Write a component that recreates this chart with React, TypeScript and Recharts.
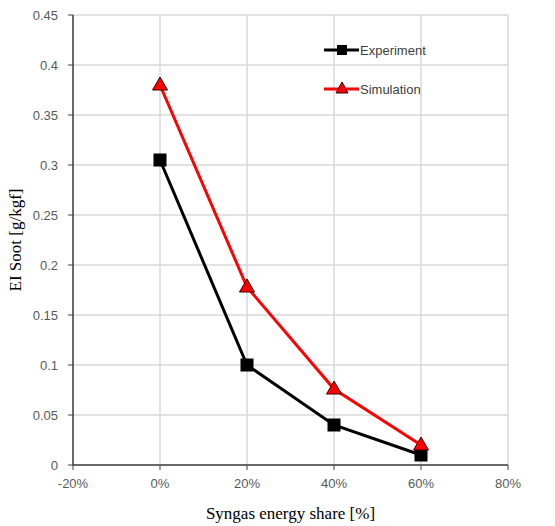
import { CartesianGrid, Line, LineChart, XAxis, YAxis } from "recharts";

const shares = [0, 0.2, 0.4, 0.6];
const experiment = [0.305, 0.1, 0.04, 0.01];
const simulation = [0.38, 0.178, 0.076, 0.02];
const xTicks = [-0.2, 0, 0.2, 0.4, 0.6, 0.8];
const yTicks = [0, 0.05, 0.1, 0.15, 0.2, 0.25, 0.3, 0.35, 0.4, 0.45];

const data = shares.map((share, i) => ({
  share,
  experiment: experiment[i],
  simulation: simulation[i],
}));

const tickFont = { fill: "#595959", fontSize: 13, fontFamily: "'Liberation Sans', Arial, sans-serif" };
const titleFont = "'Liberation Serif', 'Times New Roman', serif";

function SquareDot({ cx, cy }: { cx?: number; cy?: number }) {
  if (cx == null || cy == null) return null;
  return <rect x={cx - 6} y={cy - 6} width={12} height={12} fill="#000" stroke="#000" />;
}

function TriangleDot({ cx, cy }: { cx?: number; cy?: number }) {
  if (cx == null || cy == null) return null;
  return (
    <polygon
      points={`${cx},${cy - 8} ${cx + 7.5},${cy + 5} ${cx - 7.5},${cy + 5}`}
      fill="#ff0000"
      stroke="#3a0000"
      strokeWidth={1}
    />
  );
}

function ChartLegend() {
  const items = [
    { name: "Experiment", color: "#000", marker: "square" },
    { name: "Simulation", color: "#ff0000", marker: "triangle" },
  ];
  return (
    <div style={{ position: "absolute", left: 324, top: 40, width: 130, height: 60 }}>
      {items.map((item, i) => (
        <div
          key={item.name}
          style={{ position: "absolute", left: 0, top: i * 39, display: "flex", alignItems: "center", height: 20 }}
        >
          <svg width={35} height={20}>
            <line x1={0} y1={10} x2={35} y2={10} stroke={item.color} strokeWidth={3} />
            {item.marker === "square" ? (
              <rect x={13} y={5} width={10} height={10} fill="#000" />
            ) : (
              <polygon points="18,3 24,14 12,14" fill="#ff0000" stroke="#3a0000" strokeWidth={1} />
            )}
          </svg>
          <span style={{ ...tickFont, color: "#404040", marginLeft: 1 }}>{item.name}</span>
        </div>
      ))}
    </div>
  );
}

export default function App() {
  return (
    <div style={{ position: "absolute", left: 0, top: 0, width: 555, height: 526, background: "#fff" }}>
      <LineChart width={555} height={526} data={data} margin={{ top: 15, right: 47, bottom: 0, left: 0 }}>
        <CartesianGrid stroke="#d9d9d9" strokeWidth={1.5} />
        <XAxis
          dataKey="share"
          type="number"
          domain={[-0.2, 0.8]}
          ticks={xTicks}
          tickFormatter={(v) => `${Math.round(Number(v) * 100)}%`}
          tick={tickFont}
          tickSize={5}
          tickMargin={9}
          tickLine={{ stroke: "#404040" }}
          axisLine={{ stroke: "#404040", strokeWidth: 1.5 }}
          height={61}
          label={{
            value: "Syngas energy share [%]",
            position: "insideBottom",
            offset: 7,
            style: { fill: "#000", fontSize: 17, fontFamily: titleFont },
          }}
        />
        <XAxis
          xAxisId="top"
          orientation="top"
          dataKey="share"
          type="number"
          domain={[-0.2, 0.8]}
          ticks={xTicks}
          tick={false}
          tickLine={false}
          height={0}
          axisLine={{ stroke: "#404040", strokeWidth: 1.5 }}
        />
        <YAxis
          domain={[0, 0.45]}
          ticks={yTicks}
          tick={tickFont}
          tickSize={5}
          tickMargin={10}
          tickLine={{ stroke: "#404040" }}
          axisLine={{ stroke: "#404040", strokeWidth: 1.5 }}
          width={73}
          label={{
            value: "EI Soot [g/kgf]",
            angle: -90,
            position: "insideLeft",
            offset: 15,
            style: { fill: "#000", fontSize: 17, fontFamily: titleFont, textAnchor: "middle" },
          }}
        />
        <YAxis
          yAxisId="right"
          orientation="right"
          domain={[0, 0.45]}
          tick={false}
          tickLine={false}
          width={0}
          axisLine={{ stroke: "#404040", strokeWidth: 1.5 }}
        />
        <Line
          dataKey="experiment"
          name="Experiment"
          stroke="#000"
          strokeWidth={3}
          dot={<SquareDot />}
          activeDot={false}
          isAnimationActive={false}
        />
        <Line
          dataKey="simulation"
          name="Simulation"
          stroke="#ff0000"
          strokeWidth={3}
          dot={<TriangleDot />}
          activeDot={false}
          isAnimationActive={false}
        />
      </LineChart>
      <ChartLegend />
    </div>
  );
}
